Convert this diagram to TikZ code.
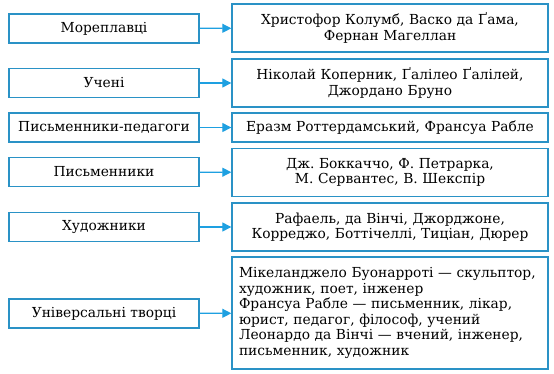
\documentclass[tikz,border=0pt]{standalone}
\usepackage{fontspec}
\setmainfont{DejaVu Serif}
\usetikzlibrary{arrows.meta}
\definecolor{frameblue}{RGB}{42,146,198}
\definecolor{arrowblue}{RGB}{30,160,225}
\frenchspacing
\begin{document}
\begin{tikzpicture}[x=1pt,y=-1pt,font=\fontsize{13.8}{15.6}\selectfont,
  kind/.style={draw=frameblue,line width=1.4pt,minimum width=190pt,minimum height=29pt,align=center,inner sep=2pt},
  who/.style={draw=frameblue,line width=1.4pt,minimum width=316pt,minimum height=48pt,text width=302pt,align=center,inner sep=2pt},
  link/.style={draw=arrowblue,line width=1.3pt,-{Triangle[length=9pt,width=9pt]}}]
  \useasboundingbox (0,0) rectangle (554,373);
  \node[kind] (k1) at (104,28.5){Мореплавці};
  \node[who] (w1) at (390,28){Христофор Колумб, Васко да Ґама,\\Фернан Магеллан};
  \node[kind] (k2) at (104,83){Учені};
  \node[who] (w2) at (390,83){Ніколай Коперник, Ґалілео Ґалілей,\\Джордано Бруно};
  \node[kind] (k3) at (104,127.5){Письменники-педагоги};
  \node[who,minimum height=29pt] (w3) at (390,127.5){Еразм Роттердамський, Франсуа Рабле};
  \node[kind] (k4) at (104,172){Письменники};
  \node[who] (w4) at (390,172.5){Дж. Боккаччо, Ф. Петрарка,\\М. Сервантес, В. Шекспір};
  \node[kind] (k5) at (104,227){Художники};
  \node[who] (w5) at (390,227){Рафаель, да Вінчі, Джорджоне,\\Корреджо, Боттічеллі, Тиціан, Дюрер};
  \node[kind] (k6) at (104,313.5){Універсальні творці};
  \node[who,minimum height=112pt,align=left] (w6) at (390,313){Мікеланджело Буонарроті — скульптор,\\художник, поет, інженер\\Франсуа Рабле — письменник, лікар,\\юрист, педагог, філософ, учений\\Леонардо да Вінчі — вчений, інженер,\\письменник, художник};
  \foreach \i in {1,...,6}
    \draw[link] (k\i) -- (w\i);
\end{tikzpicture}
\end{document}
